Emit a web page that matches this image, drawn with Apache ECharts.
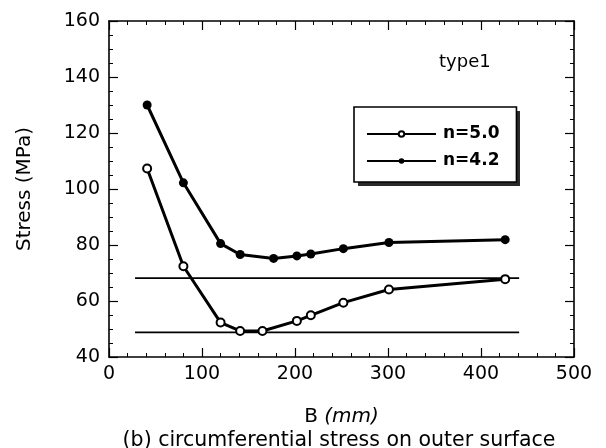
<!DOCTYPE html>
<html><head><meta charset="utf-8">
<script src="https://cdn.jsdelivr.net/npm/echarts@6/dist/echarts.min.js"></script>
<style>html,body{margin:0;padding:0;background:#fff}#c{width:606px;height:448px}</style>
</head><body><div id="c"></div>
<script>
// Data
const seriesNames = ['n=5.0', 'n=4.2'];
const bOpen   = [41, 80, 120, 141, 165, 202, 217, 252, 301, 426];
const sOpen   = [107.3, 72.4, 52.3, 49.3, 49.3, 52.9, 54.9, 59.4, 64.1, 67.8];
const bFilled = [41, 80, 120, 141, 177, 202, 217, 252, 301, 426];
const sFilled = [130.0, 102.2, 80.5, 76.6, 75.2, 76.1, 76.8, 78.7, 80.9, 81.9];
const refUpperB = [28, 441];
const refUpperS = [68.2, 68.2];
const refLowerB = [28, 441];
const refLowerS = [48.8, 48.8];
const xRange = [0, 500, 100];
const yRange = [40, 160, 20];
const xTitle = 'B ';
const xTitleItalic = '(mm)';
const yTitle = 'Stress (MPa)';
const caption = '(b) circumferential stress on outer surface';
const note = 'type1';

const zip = (a, b) => a.map((v, i) => [v, b[i]]);
const FONT = 'DejaVu Sans';

const axisCommon = (isX, showLabel, pos) => ({
  type: 'value',
  position: pos,
  min: isX ? xRange[0] : yRange[0],
  max: isX ? xRange[1] : yRange[1],
  interval: isX ? xRange[2] : yRange[2],
  axisLine: { show: true, onZero: false, lineStyle: { color: '#000', width: 1.6 } },
  axisTick: { show: true, inside: true, length: 9, lineStyle: { color: '#000', width: 1.2 } },
  minorTick: { show: true, splitNumber: isX ? 5 : 4, length: 4, lineStyle: { color: '#000', width: 1 } },
  splitLine: { show: false },
  axisLabel: { show: showLabel, color: '#000', fontFamily: FONT, fontSize: 19, margin: isX ? 8 : 9 }
});

const chart = echarts.init(document.getElementById('c'), null, { renderer: 'canvas' });
chart.setOption({
  animation: false,
  backgroundColor: '#fff',
  grid: { left: 109, right: 32, top: 21, bottom: 91, containLabel: false },
  title: {
    text: caption, left: 334, top: 425, textAlign: 'center',
    textStyle: { fontFamily: FONT, fontSize: 20.5, fontWeight: 'normal', color: '#000' }
  },
  graphic: [
    { type: 'text', left: 439, top: 53, z: 5,
      style: { text: note, fontFamily: FONT, fontSize: 18, fill: '#000' } },
    { type: 'rect', left: 358, top: 111, z: 1,
      shape: { width: 162, height: 75 }, style: { fill: '#2a2a2a' } }
  ],
  legend: {
    data: seriesNames, orient: 'vertical', left: 354, top: 107, z: 10,
    padding: [18, 17, 12, 12], itemWidth: 69, itemHeight: 7, itemGap: 9,
    backgroundColor: '#fff', borderColor: '#000', borderWidth: 1.6, borderRadius: 0,
    lineStyle: { width: 2 },
    textStyle: { fontFamily: FONT, fontSize: 17, fontWeight: 'bold', color: '#000', lineHeight: 18, padding: [0, 0, 0, 2] }
  },
  xAxis: [
    Object.assign(axisCommon(true, true, 'bottom'), {
      name: '{n|' + xTitle + '}{i|' + xTitleItalic + '}', nameLocation: 'middle', nameGap: 50,
      nameTextStyle: { verticalAlign: 'top', rich: {
        n: { fontFamily: FONT, fontSize: 20, color: '#000' },
        i: { fontFamily: FONT, fontSize: 20, fontStyle: 'italic', color: '#000' } } }
    }),
    axisCommon(true, false, 'top')
  ],
  yAxis: [
    Object.assign(axisCommon(false, true, 'left'), {
      name: yTitle, nameLocation: 'middle', nameGap: 74,
      nameTextStyle: { fontFamily: FONT, fontSize: 20, color: '#000' }
    }),
    axisCommon(false, false, 'right')
  ],
  series: [
    { name: seriesNames[0], type: 'line', data: zip(bOpen, sOpen), symbol: 'emptyCircle', symbolSize: 8,
      itemStyle: { color: '#000', borderWidth: 1.4 }, lineStyle: { color: '#000', width: 3 }, z: 3 },
    { name: seriesNames[1], type: 'line', data: zip(bFilled, sFilled), symbol: 'circle', symbolSize: 9,
      itemStyle: { color: '#000' }, lineStyle: { color: '#000', width: 3 }, z: 3 },
    { name: 'upper', type: 'line', data: zip(refUpperB, refUpperS), symbol: 'none',
      lineStyle: { color: '#000', width: 1.8 }, z: 2, silent: true },
    { name: 'lower', type: 'line', data: zip(refLowerB, refLowerS), symbol: 'none',
      lineStyle: { color: '#000', width: 1.8 }, z: 2, silent: true }
  ]
});
</script></body></html>
